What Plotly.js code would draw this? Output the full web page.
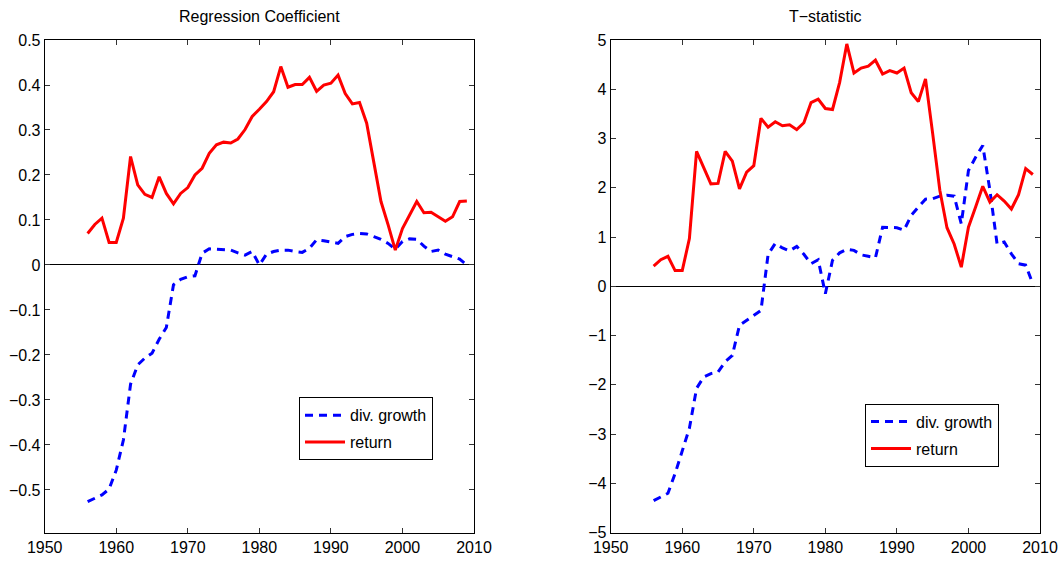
<!DOCTYPE html>
<html>
<head>
<meta charset="utf-8">
<script src="https://cdn.plot.ly/plotly-3.0.1.min.js"></script>
<style>
html,body{margin:0;padding:0;background:#fff;}
#chart{width:1058px;height:561px;}
</style>
</head>
<body>
<div id="chart"></div>
<script>
const years = [1956,1957,1958,1959,1960,1961,1962,1963,1964,1965,
  1966,1967,1968,1969,1970,1971,1972,1973,1974,1975,
  1976,1977,1978,1979,1980,1981,1982,1983,1984,1985,
  1986,1987,1988,1989,1990,1991,1992,1993,1994,1995,
  1996,1997,1998,1999,2000,2001,2002,2003,2004,2005,
  2006,2007,2008,2009];

const coefDivGrowth = [-0.526,-0.518,-0.511,-0.498,-0.456,-0.389,-0.265,-0.222,-0.207,-0.196,
  -0.165,-0.139,-0.044,-0.032,-0.026,-0.024,0.026,0.036,0.035,0.033,
  0.033,0.027,0.022,0.030,0.000,0.024,0.030,0.033,0.033,0.030,
  0.028,0.037,0.056,0.054,0.051,0.048,0.063,0.068,0.070,0.069,
  0.063,0.057,0.048,0.035,0.052,0.058,0.057,0.042,0.030,0.033,
  0.024,0.019,0.013,0.000];

const coefReturn = [0.070,0.090,0.104,0.050,0.050,0.104,0.241,0.178,0.157,0.150,
  0.196,0.159,0.136,0.159,0.172,0.200,0.215,0.248,0.267,0.273,
  0.271,0.280,0.301,0.330,0.346,0.363,0.385,0.441,0.395,0.401,
  0.401,0.417,0.386,0.400,0.404,0.422,0.381,0.358,0.361,0.315,
  0.228,0.141,0.089,0.033,0.081,0.110,0.141,0.116,0.117,0.107,
  0.097,0.107,0.141,0.142];

const tDivGrowth = [-4.35,-4.27,-4.20,-3.80,-3.32,-2.88,-2.07,-1.84,-1.77,-1.74,
  -1.53,-1.40,-0.79,-0.69,-0.60,-0.49,0.65,0.87,0.78,0.72,
  0.81,0.65,0.46,0.54,-0.15,0.53,0.68,0.75,0.73,0.64,
  0.61,0.58,1.20,1.20,1.19,1.14,1.44,1.61,1.77,1.78,
  1.83,1.85,1.83,1.27,2.35,2.62,2.86,1.95,0.86,0.90,
  0.66,0.46,0.43,0.05];

const tReturn = [0.41,0.54,0.61,0.32,0.32,0.97,2.74,2.42,2.08,2.09,
  2.74,2.54,1.98,2.32,2.45,3.41,3.23,3.34,3.26,3.28,
  3.18,3.32,3.73,3.80,3.61,3.59,4.14,4.92,4.33,4.43,
  4.47,4.59,4.31,4.38,4.33,4.43,3.93,3.75,4.21,3.10,
  1.95,1.19,0.86,0.39,1.20,1.61,2.03,1.71,1.86,1.73,
  1.57,1.86,2.39,2.27];

const xTicks = [1950,1960,1970,1980,1990,2000,2010];
const coefTicks = [-0.5,-0.4,-0.3,-0.2,-0.1,0,0.1,0.2,0.3,0.4,0.5];
const tTicks = [-5,-4,-3,-2,-1,0,1,2,3,4,5];
const seriesNames = ['div. growth','return'];
const panelTitles = ['Regression Coefficient','T\u2212statistic'];

const FONT = "'Liberation Sans',Arial,Helvetica,sans-serif";
const BLUE = '#0000ff', RED = '#ff0000';
const DASH = '8px,6px';

const traces = [
  {x: years, y: coefDivGrowth, name: seriesNames[0], type: 'scatter', mode: 'lines',
   line: {color: BLUE, width: 3, dash: DASH}, xaxis: 'x', yaxis: 'y', legend: 'legend', legendgroup: 'g1'},
  {x: years, y: coefReturn, name: seriesNames[1], type: 'scatter', mode: 'lines',
   line: {color: RED, width: 3}, xaxis: 'x', yaxis: 'y', legend: 'legend', legendgroup: 'g2'},
  {x: years, y: tDivGrowth, name: seriesNames[0], type: 'scatter', mode: 'lines',
   line: {color: BLUE, width: 3, dash: DASH}, xaxis: 'x2', yaxis: 'y2', legend: 'legend2', legendgroup: 'g3'},
  {x: years, y: tReturn, name: seriesNames[1], type: 'scatter', mode: 'lines',
   line: {color: RED, width: 3}, xaxis: 'x2', yaxis: 'y2', legend: 'legend2', legendgroup: 'g4'}
];

const W = 1058, H = 561;
const axCommon = {
  showline: true, linecolor: '#000', linewidth: 1, mirror: 'ticks',
  ticks: 'inside', ticklen: 5, tickcolor: '#333', tickwidth: 1,
  showgrid: false, ticklabeloverflow: 'allow',
  tickfont: {family: FONT, size: 16, color: '#000'}
};
const xDom1 = [44.7/W, 474/W], xDom2 = [610.7/W, 1040/W];
const yDom = [1 - 532.7/H, 1 - 40/H];

const legCommon = {
  bgcolor: '#fff', bordercolor: '#000', borderwidth: 1,
  font: {family: FONT, size: 16, color: '#000'},
  xanchor: 'left', yanchor: 'top', traceorder: 'grouped', tracegroupgap: 3, itemwidth: 40
};

const layout = {
  width: W, height: H,
  margin: {l: 0, r: 0, t: 0, b: 0, pad: 0},
  paper_bgcolor: '#fff', plot_bgcolor: '#fff',
  showlegend: true,
  xaxis: Object.assign({}, axCommon, {domain: xDom1, range: [1950, 2010], tickvals: xTicks, zeroline: false, anchor: 'y'}),
  yaxis: Object.assign({}, axCommon, {domain: yDom, range: [-0.595, 0.5], tickvals: coefTicks,
    ticktext: coefTicks.map(v => v === 0 ? '0' : (v < 0 ? '\u2212' + Math.abs(v) : String(v))),
    zeroline: true, zerolinecolor: '#000', zerolinewidth: 1, anchor: 'x'}),
  xaxis2: Object.assign({}, axCommon, {domain: xDom2, range: [1950, 2010], tickvals: xTicks, zeroline: false, anchor: 'y2'}),
  yaxis2: Object.assign({}, axCommon, {domain: yDom, range: [-5, 5], tickvals: tTicks,
    ticktext: tTicks.map(v => v < 0 ? '\u2212' + Math.abs(v) : String(v)),
    zeroline: true, zerolinecolor: '#000', zerolinewidth: 1, anchor: 'x2'}),
  legend: Object.assign({}, legCommon, {x: 299/W, y: 1 - 397.3/H}),
  legend2: Object.assign({}, legCommon, {x: 865/W, y: 1 - 403.7/H}),
  annotations: [
    {text: panelTitles[0], xref: 'paper', yref: 'paper', x: (xDom1[0]+xDom1[1])/2, y: 1 - 16/H,
     xanchor: 'center', yanchor: 'middle', showarrow: false, font: {family: FONT, size: 16, color: '#000'}},
    {text: panelTitles[1], xref: 'paper', yref: 'paper', x: (xDom2[0]+xDom2[1])/2, y: 1 - 16/H,
     xanchor: 'center', yanchor: 'middle', showarrow: false, font: {family: FONT, size: 16, color: '#000'}}
  ]
};

Plotly.newPlot('chart', traces, layout, {staticPlot: true, displayModeBar: false});
</script>
</body>
</html>
